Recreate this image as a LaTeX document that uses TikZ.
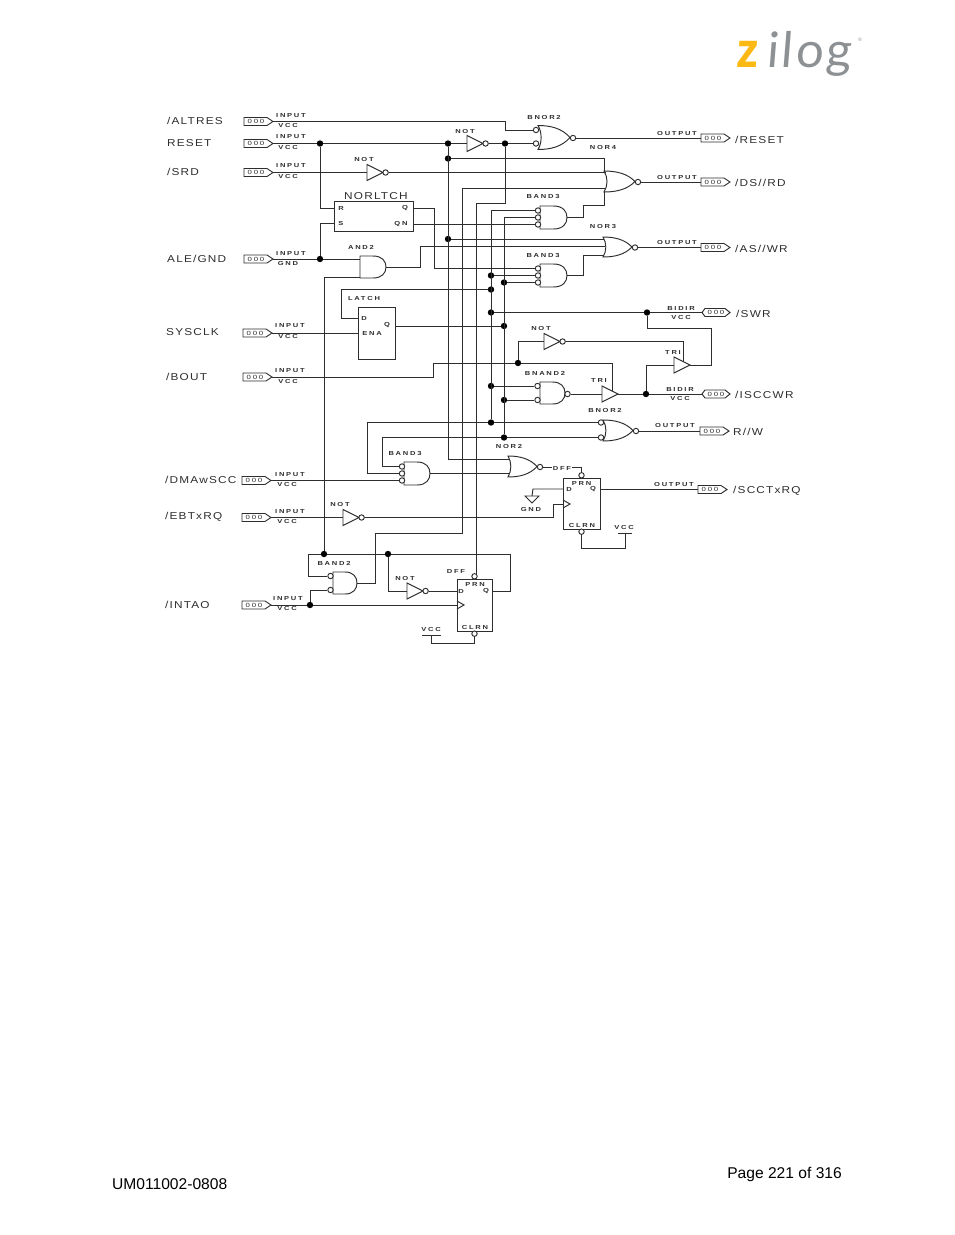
\documentclass[tikz,border=0pt]{standalone}
\usepackage{fontspec}
\setmainfont{Liberation Sans}
\newfontfamily\labf[LetterSpace=12,FakeStretch=1.18]{Liberation Sans}
\newfontfamily\smf[LetterSpace=30,FakeStretch=1.3]{Liberation Sans}
\newfontfamily\logoz[FakeSlant=0.06,FakeStretch=0.9]{Open Sans}
\newfontfamily\logoi[FakeSlant=0.08,LetterSpace=6]{Lato}
\definecolor{ink}{HTML}{2E2E2E}
\definecolor{zyel}{HTML}{FDB913}
\definecolor{zgry}{HTML}{8E9194}
\newcounter{tn}
\tikzset{
 wire/.style={line width=0.95pt,draw=ink},
 gate/.style={line width=0.95pt,draw=ink,fill=white},
 gbox/.style={rectangle,inner sep=0pt,outer sep=0pt},
 bub/.style={circle,draw=ink,line width=0.95pt,fill=white,inner sep=0pt,minimum size=5.4pt},
 jdot/.style={circle,fill=black,inner sep=0pt,minimum size=6.4pt},
 ffbox/.style={rectangle,draw=ink,line width=0.95pt,inner sep=0pt,fill=white},
 smt/.style={inner sep=0pt,text=ink,font=\smf\bfseries\fontsize{5.8}{6}\selectfont},
 lbl/.style={inner sep=0pt,anchor=west,text=ink,font=\labf\fontsize{10}{11}\selectfont},
 pagetxt/.style={inner sep=0pt,text=black,font=\fontsize{15.6}{18}\selectfont},
}
\newcommand{\sm}[3]{\stepcounter{tn}\node[smt] (t\arabic{tn}) at (#1,#2) {#3};}
\newcommand{\lb}[3]{\stepcounter{tn}\node[lbl] (t\arabic{tn}) at (#1,#2) {#3};}
\newcommand{\mkand}[5]{\node[gbox,minimum width=#4pt,minimum height=#5pt,anchor=west] (#1) at (#2,#3) {};
 \begin{scope}[shift={(#2,#3)},xscale=#4,yscale=#5]
 \draw[gate] (0,-.5) -- (.5,-.5) .. controls (.85,-.5) and (1,-.27) .. (1,0) .. controls (1,.27) and (.85,.5) .. (.5,.5) -- (0,.5) -- cycle;
 \end{scope}}
\newcommand{\mkor}[5]{\node[gbox,minimum width=#4pt,minimum height=#5pt,anchor=west] (#1) at (#2,#3) {};
 \begin{scope}[shift={(#2,#3)},xscale=#4,yscale=#5]
 \draw[gate] (0,-.5) .. controls (.4,-.5) and (.75,-.38) .. (1,0) .. controls (.75,.38) and (.4,.5) .. (0,.5) .. controls (.13,.2) and (.13,-.2) .. (0,-.5) -- cycle;
 \end{scope}}
\newcommand{\mknot}[3]{\node[gbox,minimum width=16pt,minimum height=16pt,anchor=west] (#1) at (#2,#3) {};
 \begin{scope}[shift={(#2,#3)}]
 \draw[gate] (0,-8) -- (16,0) -- (0,8) -- cycle;
 \node[bub] (#1-o) at (18.6,0) {};
 \end{scope}}
\newcommand{\mktri}[3]{\node[gbox,minimum width=16pt,minimum height=16pt,anchor=west] (#1) at (#2,#3) {};
 \begin{scope}[shift={(#2,#3)}]
 \draw[gate] (0,-8) -- (16,0) -- (0,8) -- cycle;
 \end{scope}}
\newcommand{\mkpin}[3]{
 \begin{scope}[shift={(#2,#3)}]
 \draw[gate] (0,-4) -- (23,-4) -- (29,0) -- (23,4) -- (0,4) -- cycle;
 \end{scope}
 \node[gbox,minimum width=29pt,minimum height=8pt,anchor=west,text=ink,font=\smf\fontsize{6}{6}\selectfont] (#1) at (#2,#3) {000\hspace*{5pt}};}
\newcommand{\mkbid}[3]{
 \begin{scope}[shift={(#2,#3)}]
 \draw[gate] (3,-4) -- (23,-4) -- (28,0) -- (23,4) -- (3,4) -- (0,0) -- cycle;
 \end{scope}
 \node[gbox,minimum width=28pt,minimum height=8pt,anchor=west,text=ink,font=\smf\fontsize{6}{6}\selectfont] (#1) at (#2,#3) {000};}
\newcommand{\mkdot}[3]{\node[jdot] (#1) at (#2,#3) {};}
\newcommand{\mkbub}[3]{\node[bub] (#1) at (#2,#3) {};}
\begin{document}
\begin{tikzpicture}[x=1pt,y=-1pt]
\useasboundingbox (0,0) rectangle (954,1235);
\fill[white] (0,0) rectangle (954,1235);

% logo
\node[anchor=base west,inner sep=0pt,text=zyel,font=\logoz\bfseries\fontsize{48}{48}\selectfont] (logoa) at (736,67) {z};
\node[anchor=base west,inner sep=0pt,text=zgry,font=\logoi\fontsize{49}{49}\selectfont] (logob) at (766,67) {ilog};
\node[inner sep=0pt,text=zgry,font=\fontsize{5}{5}\selectfont] (logoc) at (860,40) {®};

% page text
\node[pagetxt,anchor=east] (pg) at (842,1174) {Page 221 of 316};
\node[pagetxt,anchor=west] (um) at (112,1184.5) {UM011002-0808};

% junction dots
\mkdot{dRa}{320}{143.5} \mkdot{dRb}{448}{143.5} \mkdot{dB}{448}{158.5} \mkdot{dA}{448}{239}
\mkdot{dN}{505}{143.5} \mkdot{dAle}{320}{259}
\mkdot{dc}{491}{275.5} \mkdot{dd}{504}{282.5} \mkdot{de}{491}{289.5} \mkdot{df}{491}{312.5}
\mkdot{dg}{504}{326} \mkdot{dh}{518}{363} \mkdot{di}{491}{386} \mkdot{dj}{504}{400}
\mkdot{dk}{491}{422.5} \mkdot{dl}{504}{437.5} \mkdot{dSwr}{647}{312.5} \mkdot{dIsc}{646}{394}
\mkdot{dm}{324}{554} \mkdot{dn}{388}{554} \mkdot{dInt}{310}{605}

% input pins
\mkpin{pAlt}{244}{121.5} \mkpin{pRes}{244}{143.5} \mkpin{pSrd}{244}{172.5} \mkpin{pAle}{244}{259}
\mkpin{pSys}{243}{333} \mkpin{pBou}{243}{377} \mkpin{pDma}{242}{480.5} \mkpin{pEbt}{242}{517.5} \mkpin{pInt}{242}{605}
% output pins
\mkpin{oRes}{701}{138} \mkpin{oDs}{701}{182} \mkpin{oAs}{701}{247.5} \mkpin{oRw}{700}{431} \mkpin{oScc}{698}{489.5}
\mkbid{oSwr}{702}{312.5} \mkbid{oIsc}{702}{394}

% gates
\mkor{bnora}{538}{137.5}{32}{24}
\mkbub{bnora-1}{536}{130} \mkbub{bnora-2}{536}{143.5} \mkbub{bnora-o}{573}{138}
\mkor{nor4}{604}{181.5}{31}{21} \mkbub{nor4-o}{638}{182}
\mkor{nor3}{603}{247}{29}{20} \mkbub{nor3-o}{635}{247.5}
\mkand{banda}{540}{217.5}{27}{23}
\mkbub{banda-1}{538}{210.5} \mkbub{banda-2}{538}{217.5} \mkbub{banda-3}{538}{224.5}
\mkand{bandb}{540}{275.5}{27}{23}
\mkbub{bandb-1}{538}{268.5} \mkbub{bandb-2}{538}{275.5} \mkbub{bandb-3}{538}{282.5}
\mkand{bandc}{404}{473.5}{26}{23}
\mkbub{bandc-1}{402}{466.5} \mkbub{bandc-2}{402}{473.5} \mkbub{bandc-3}{402}{480.5}
\mkand{andtwo}{360}{267}{26}{22}
\mkand{bnand}{540}{393}{25}{22}
\mkbub{bnand-1}{537.5}{386} \mkbub{bnand-2}{537.5}{400} \mkbub{bnand-o}{567.5}{394}
\mkor{bnorb}{603}{430.5}{30}{21}
\mkbub{bnorb-1}{601}{422.5} \mkbub{bnorb-2}{601}{437.5} \mkbub{bnorb-o}{636}{431}
\mkor{nor2}{508}{466.5}{29}{21} \mkbub{nor2-o}{540}{467}
\mkand{bandd}{333}{583}{24}{22}
\mkbub{bandd-1}{330.5}{576} \mkbub{bandd-2}{330.5}{590}

\mknot{nota}{467}{143.5}
\mknot{notb}{367}{172.5}
\mknot{notc}{544}{341.5}
\mknot{notd}{343}{517.5}
\mknot{note}{407}{591}
\mktri{tria}{602}{394}
\mktri{trib}{674}{365}

% boxes
\node[ffbox,minimum width=79pt,minimum height=30pt] (norl) at (373.5,216) {};
\node[ffbox,minimum width=37pt,minimum height=52pt] (latch) at (376.5,333) {};
\node[ffbox,minimum width=37pt,minimum height=51pt] (ffa) at (581.5,503.5) {};
\node[ffbox,minimum width=35pt,minimum height=52pt] (ffb) at (474.5,605) {};
\draw[wire] (563,500) -- (570,504) -- (563,508);
\draw[wire] (457,601) -- (464,605) -- (457,609);
\mkbub{ffa-p}{581.5}{475.3} \mkbub{ffa-c}{581.5}{531.7}
\mkbub{ffb-p}{474.5}{576.3} \mkbub{ffb-c}{474.5}{633.7}

% named connection points
\coordinate (norlr) at (334,208); \coordinate (norls) at (334,223);
\coordinate (norlq) at (413,208); \coordinate (norln) at (413,224.5);
\coordinate (latd) at (358,318); \coordinate (late) at (358,333); \coordinate (latq) at (395,326);
\coordinate (ffad) at (563,489); \coordinate (ffaq) at (600,489.5); \coordinate (ffak) at (563,504);
\coordinate (ffbd) at (457,591); \coordinate (ffbq) at (492,591); \coordinate (ffbk) at (457,605);
\coordinate (gndt) at (532,496);
\coordinate (vcca) at (625,533); \coordinate (vccb) at (431.5,635);
\coordinate (tren) at (612,391); \coordinate (trfn) at (683,361.5);

% wires
\begin{scope}[wire]
\draw (pAlt.east) -- (505,121.5) -- (505,130) -- (bnora-1);
\draw (pRes.east) -- (dRa) -- (dRb) -- (nota.west);
\draw (nota-o) -- (dN) -- (bnora-2);
\draw (bnora-o) -- (oRes.west);
\draw (pSrd.east) -- (notb.west);
\draw (notb-o) -- (605.5,172.5);
\draw (dB) -- (604,158.5) -- (604,172);
\draw (462,188) -- (605.5,188);
\draw (604,191) -- (604,205) -- (583,205) -- (583,217.5) -- (banda.east);
\draw (nor4-o) -- (oDs.west);
\draw (dA) -- (604,239);
\draw (andtwo.east) -- (420,267) -- (420,246.5) -- (605,246.5);
\draw (bandb.east) -- (583,275.5) -- (583,255) -- (604,255);
\draw (nor3-o) -- (oAs.west);
\draw (dRb) -- (448,459) -- (510,459);
\draw (462,188) -- (462,533) -- (375,533) -- (375,583) -- (bandd.east);
\draw (dN) -- (505,203) -- (476,203) -- (476,573.5);
\draw (banda-1) -- (491,210.5) -- (dk);
\draw (banda-2) -- (504,217.5) -- (dl);
\draw (norln) -- (banda-3);
\draw (norlq) -- (434,208) -- (434,268.5) -- (bandb-1);
\draw (dc) -- (bandb-2);
\draw (dd) -- (bandb-3);
\draw (pAle.east) -- (dAle) -- (360,259);
\draw (dRa) -- (320,208) -- (norlr);
\draw (dAle) -- (320,223) -- (norls);
\draw (dm) -- (324,277) -- (360,277);
\draw (pSys.east) -- (late);
\draw (latd) -- (341,318) -- (341,289.5) -- (de);
\draw (latq) -- (dg);
\draw (pBou.east) -- (433,377) -- (433,363) -- (dh) -- (612,363) -- (tren);
\draw (dh) -- (518,341.5) -- (notc.west);
\draw (notc-o) -- (683,341.5) -- (trfn);
\draw (df) -- (dSwr) -- (oSwr.west);
\draw (dSwr) -- (647,328.5) -- (711,328.5) -- (711,365) -- (trib.east);
\draw (trib.west) -- (646,365) -- (dIsc);
\draw (tria.east) -- (dIsc) -- (oIsc.west);
\draw (bnand-o) -- (tria.west);
\draw (di) -- (bnand-1);
\draw (dj) -- (bnand-2);
\draw (bandc-2) -- (367,473.5) -- (367,422.5) -- (dk) -- (bnorb-1);
\draw (bandc-1) -- (382,466.5) -- (382,437.5) -- (dl) -- (bnorb-2);
\draw (bnorb-o) -- (oRw.west);
\draw (bandc.east) -- (510,473.5);
\draw (pDma.east) -- (bandc-3);
\draw (pEbt.east) -- (notd.west);
\draw (notd-o) -- (553,517.5) -- (553,504) -- (ffak);
\draw (nor2-o) -- (581.5,467) -- (ffa-p);
\draw (ffad) -- (533,489) -- (gndt);
\draw (ffaq) -- (oScc.west);
\draw (ffa-c) -- (581.5,548) -- (625,548) -- (vcca);
\draw (618,533) -- (632,533);
\draw (525,496) -- (539,496) -- (532,503) -- cycle;
\draw (pInt.east) -- (dInt) -- (ffbk);
\draw (dInt) -- (310,590) -- (bandd-2);
\draw (bandd-1) -- (308,576) -- (308,554) -- (dm) -- (dn) -- (510,554) -- (510,591) -- (ffbq);
\draw (dn) -- (388,591) -- (note.west);
\draw (note-o) -- (ffbd);
\draw (ffb-c) -- (474.5,643) -- (431.5,643) -- (vccb);
\draw (422,635) -- (441,635);
\end{scope}

% big labels
\lb{167}{121}{/ALTRES} \lb{167}{143}{RESET} \lb{167}{172}{/SRD} \lb{167}{259}{ALE/GND}
\lb{166}{332}{SYSCLK} \lb{166}{377}{/BOUT} \lb{165}{480}{/DMAwSCC} \lb{165}{517}{/EBTxRQ} \lb{165}{605}{/INTAO}
\lb{735}{139.5}{/RESET} \lb{735}{183}{/DS//RD} \lb{735}{248.5}{/AS//WR} \lb{736}{314}{/SWR}
\lb{735}{395}{/ISCCWR} \lb{733}{431.5}{R//W} \lb{733}{490.5}{/SCCTxRQ}
\lb{344}{196}{NORLTCH}

% small labels
\sm{291}{116}{INPUT} \sm{288}{125.5}{VCC}
\sm{291}{137}{INPUT} \sm{288}{147}{VCC}
\sm{291}{166}{INPUT} \sm{288}{176}{VCC}
\sm{291}{254}{INPUT} \sm{288}{263}{GND}
\sm{290}{326}{INPUT} \sm{288}{336}{VCC}
\sm{290}{371}{INPUT} \sm{288}{381}{VCC}
\sm{290}{475}{INPUT} \sm{287}{484}{VCC}
\sm{290}{511.5}{INPUT} \sm{287}{521}{VCC}
\sm{288}{599}{INPUT} \sm{287}{608.5}{VCC}
\sm{677}{133}{OUTPUT} \sm{677}{177}{OUTPUT} \sm{677}{242}{OUTPUT} \sm{675}{425.5}{OUTPUT} \sm{674}{484}{OUTPUT}
\sm{681}{308}{BIDIR} \sm{681}{317}{VCC} \sm{680}{389}{BIDIR} \sm{680}{398}{VCC}
\sm{465}{131}{NOT} \sm{544}{117.5}{BNOR2} \sm{603}{147}{NOR4} \sm{364}{159}{NOT}
\sm{543}{197}{BAND3} \sm{603}{227}{NOR3} \sm{543}{256}{BAND3} \sm{361}{247}{AND2}
\sm{364}{298}{LATCH} \sm{541}{328.5}{NOT} \sm{673}{352}{TRI} \sm{599}{380}{TRI}
\sm{545}{373}{BNAND2} \sm{605}{410}{BNOR2} \sm{509}{446}{NOR2} \sm{405}{453}{BAND3}
\sm{340}{504}{NOT} \sm{334}{563}{BAND2} \sm{405}{578}{NOT}
\node[smt,fill=white,inner xsep=1pt,inner ysep=1pt] (tdffa) at (562,468.5) {DFF};
\sm{456}{571}{DFF}
\sm{341}{208}{R} \sm{341}{223}{S} \sm{405}{208}{Q} \sm{401}{224}{QN}
\sm{364}{318}{D} \sm{372}{333}{ENA} \sm{387}{325}{Q}
\sm{581.5}{483}{PRN} \sm{569}{489}{D} \sm{593}{489}{Q} \sm{582}{525}{CLRN}
\sm{531}{509}{GND} \sm{624}{527}{VCC}
\sm{475}{584}{PRN} \sm{461}{591}{D} \sm{486}{591}{Q} \sm{475}{627}{CLRN} \sm{431}{629}{VCC}
\end{tikzpicture}
\end{document}
